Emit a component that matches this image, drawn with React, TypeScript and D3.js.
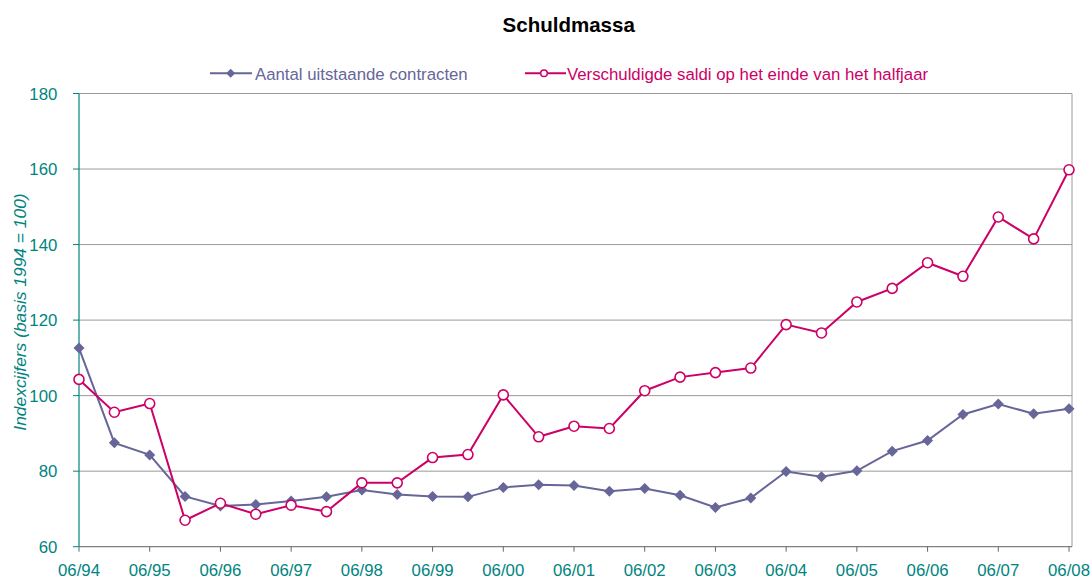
import React from "react";
import * as d3 from "d3";

const periods = [
  "06/94", "12/94", "06/95", "12/95", "06/96", "12/96", "06/97", "12/97",
  "06/98", "12/98", "06/99", "12/99", "06/00", "12/00", "06/01", "12/01",
  "06/02", "12/02", "06/03", "12/03", "06/04", "12/04", "06/05", "12/05",
  "06/06", "12/06", "06/07", "12/07", "06/08",
];
const aantal = [
  112.6, 87.5, 84.3, 73.3, 70.8, 71.2, 72.1, 73.2,
  75.0, 73.8, 73.3, 73.2, 75.7, 76.4, 76.2, 74.7,
  75.4, 73.6, 70.4, 72.9, 79.9, 78.5, 80.1, 85.3,
  88.1, 95.0, 97.8, 95.2, 96.5,
];
const saldi = [
  104.3, 95.6, 97.9, 67.0, 71.5, 68.6, 71.0, 69.3,
  76.9, 76.9, 83.6, 84.4, 100.2, 89.1, 91.9, 91.3,
  101.3, 104.9, 106.1, 107.3, 118.8, 116.6, 124.8, 128.4,
  135.2, 131.6, 147.3, 141.5, 159.8,
];
const yTicks = [60, 80, 100, 120, 140, 160, 180];

const W = 1092, H = 580;
const left = 79, right = 1069, top = 93.5, bottom = 546.7;
const teal = "#00847f";
const blue = "#666699";
const red = "#cc0066";
const font = "'Liberation Sans', Arial, sans-serif";
const fs = 16.8;

export default function App() {
  const x = d3.scalePoint<string>().domain(periods).range([left, right]);
  const y = d3.scaleLinear().domain([60, 180]).range([bottom, top]);
  const line = d3
    .line<number>()
    .x((_, i) => x(periods[i]) as number)
    .y((d) => y(d));
  const yearTicks = periods.filter((p) => p.startsWith("06"));
  const diamond = (cx: number, cy: number, r: number) =>
    `M${cx},${cy - r}L${cx + r},${cy}L${cx},${cy + r}L${cx - r},${cy}Z`;

  return (
    <svg
      width={W}
      height={H}
      style={{ position: "absolute", left: 0, top: 0, background: "#fff" }}
      fontFamily={font}
    >
      <text x={568.7} y={31.5} textAnchor="middle" fontSize={20.5} fontWeight="bold" fill="#000">
        Schuldmassa
      </text>

      {/* legend */}
      <g>
        <line x1={210} x2={252} y1={73.3} y2={73.3} stroke={blue} strokeWidth={2} />
        <path d={diamond(230.7, 73.3, 4.5)} fill={blue} />
        <text x={255} y={80.3} fontSize={fs} fill={blue}>
          Aantal uitstaande contracten
        </text>
        <line x1={525} x2={566} y1={73.3} y2={73.3} stroke={red} strokeWidth={2} />
        <circle cx={544} cy={73.3} r={3.3} fill="#fff" stroke={red} strokeWidth={1.5} />
        <text x={567} y={80.3} fontSize={fs} fill={red}>
          Verschuldigde saldi op het einde van het halfjaar
        </text>
      </g>

      {/* grid */}
      {yTicks.slice(1).map((t) => (
        <line key={t} x1={left} x2={1072} y1={y(t)} y2={y(t)} stroke="#9a9a9a" strokeWidth={1} />
      ))}
      <line x1={1072} x2={1072} y1={top} y2={bottom} stroke="#9a9a9a" strokeWidth={1} />
      <line x1={left} x2={1072} y1={bottom} y2={bottom} stroke="#808080" strokeWidth={1.2} />

      {/* y axis */}
      <line x1={left} x2={left} y1={top} y2={bottom} stroke={teal} strokeWidth={1.2} />
      {yTicks.map((t) => (
        <g key={t}>
          <line x1={left - 6} x2={left} y1={y(t)} y2={y(t)} stroke={teal} strokeWidth={1} />
          <text x={57.3} y={y(t) + 6} textAnchor="end" fontSize={fs} fill={teal}>
            {t}
          </text>
        </g>
      ))}
      <text
        transform={`translate(26,312) rotate(-90)`}
        textAnchor="middle"
        fontSize={17.4}
        fontStyle="italic"
        fill={teal}
      >
        Indexcijfers (basis 1994 = 100)
      </text>

      {/* x axis */}
      {yearTicks.map((p) => (
        <g key={p}>
          <line x1={x(p)} x2={x(p)} y1={bottom} y2={bottom + 5} stroke="#666" strokeWidth={1} />
          <text x={x(p)} y={576} textAnchor="middle" fontSize={fs} fill={teal}>
            {p}
          </text>
        </g>
      ))}

      {/* series */}
      <path d={line(aantal) as string} fill="none" stroke={blue} strokeWidth={2} />
      {aantal.map((v, i) => (
        <path key={i} d={diamond(x(periods[i]) as number, y(v), 5.5)} fill={blue} />
      ))}
      <path d={line(saldi) as string} fill="none" stroke={red} strokeWidth={2} />
      {saldi.map((v, i) => (
        <circle key={i} cx={x(periods[i])} cy={y(v)} r={5} fill="#fff" stroke={red} strokeWidth={1.6} />
      ))}
    </svg>
  );
}
